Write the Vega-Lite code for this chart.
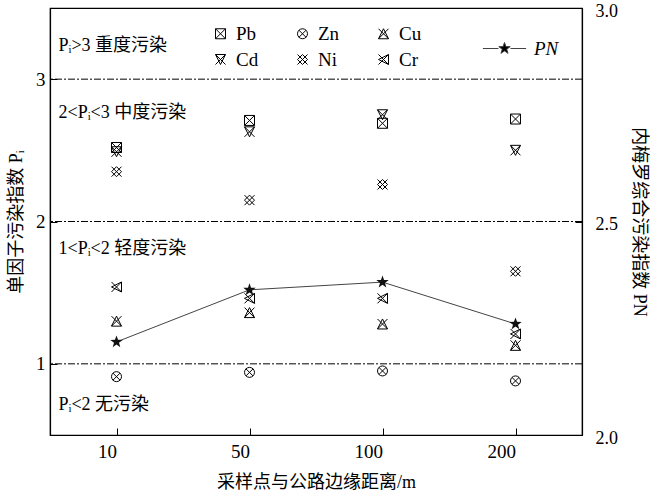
{
  "$schema": "https://vega.github.io/schema/vega-lite/v6.json",
  "width": 532,
  "height": 427,
  "autosize": "none",
  "padding": {"left": 50, "top": 8, "right": 68, "bottom": 56},
  "background": "white",
  "config": {
    "view": {"stroke": "black", "strokeWidth": 1.2},
    "font": "Liberation Serif",
    "axis": {
      "domainColor": "black", "tickColor": "black", "labelColor": "black", "titleColor": "black",
      "labelFont": "Liberation Serif", "titleFont": "Liberation Serif, Noto Sans CJK SC",
      "labelFontSize": 19, "titleFontSize": 18, "titleFontWeight": "normal",
      "grid": false, "tickSize": -7, "domainWidth": 1.2
    },
    "legend": {
      "labelFont": "Liberation Serif", "labelFontSize": 19, "labelColor": "black", "padding": 0
    }
  },
  "datasets": {
    "metals": [
      {"d": "10", "metal": "Pb", "Pi": 2.52},
      {"d": "10", "metal": "Zn", "Pi": 0.91},
      {"d": "10", "metal": "Cu", "Pi": 1.30},
      {"d": "10", "metal": "Cd", "Pi": 2.49},
      {"d": "10", "metal": "Ni", "Pi": 2.35},
      {"d": "10", "metal": "Cr", "Pi": 1.54},
      {"d": "50", "metal": "Pb", "Pi": 2.71},
      {"d": "50", "metal": "Zn", "Pi": 0.94},
      {"d": "50", "metal": "Cu", "Pi": 1.36},
      {"d": "50", "metal": "Cd", "Pi": 2.63},
      {"d": "50", "metal": "Ni", "Pi": 2.15},
      {"d": "50", "metal": "Cr", "Pi": 1.46},
      {"d": "100", "metal": "Pb", "Pi": 2.69},
      {"d": "100", "metal": "Zn", "Pi": 0.95},
      {"d": "100", "metal": "Cu", "Pi": 1.28},
      {"d": "100", "metal": "Cd", "Pi": 2.75},
      {"d": "100", "metal": "Ni", "Pi": 2.26},
      {"d": "100", "metal": "Cr", "Pi": 1.46},
      {"d": "200", "metal": "Pb", "Pi": 2.72},
      {"d": "200", "metal": "Zn", "Pi": 0.88},
      {"d": "200", "metal": "Cu", "Pi": 1.13},
      {"d": "200", "metal": "Cd", "Pi": 2.50},
      {"d": "200", "metal": "Ni", "Pi": 1.65},
      {"d": "200", "metal": "Cr", "Pi": 1.21}
    ],
    "pn": [
      {"d": "10", "PN": 2.218, "series": "PN"},
      {"d": "50", "PN": 2.34, "series": "PN"},
      {"d": "100", "PN": 2.358, "series": "PN"},
      {"d": "200", "PN": 2.26, "series": "PN"}
    ],
    "levels": [{"Pi": 1}, {"Pi": 2}, {"Pi": 3}],
    "notes": [
      {"label": "Pᵢ>3 重度污染", "Pi": 3.23},
      {"label": "2<Pᵢ<3 中度污染", "Pi": 2.76},
      {"label": "1<Pᵢ<2 轻度污染", "Pi": 1.81},
      {"label": "Pᵢ<2 无污染", "Pi": 0.71}
    ]
  },
  "layer": [
    {
      "layer": [
        {
          "data": {"name": "levels"},
          "mark": {"type": "rule", "color": "black", "strokeWidth": 1, "strokeDash": [7, 2, 2, 2]},
          "encoding": {
            "y": {"field": "Pi", "type": "quantitative", "scale": {"domain": [0.5, 3.5], "nice": false, "zero": false}, "axis": {"orient": "left", "values": [1, 2, 3], "title": "单因子污染指数 Pᵢ", "labelPadding": 12, "titlePadding": 10}}
          }
        },
        {
          "data": {"name": "notes"},
          "mark": {"type": "text", "align": "left", "baseline": "middle", "fontSize": 18, "font": "Liberation Serif, Noto Sans CJK SC", "color": "black", "dx": -58},
          "encoding": {
            "x": {"datum": "10", "type": "ordinal", "scale": {"type": "point", "padding": 0.5, "domain": ["10", "50", "100", "200"]}},
            "y": {"field": "Pi", "type": "quantitative", "scale": {"domain": [0.5, 3.5], "nice": false, "zero": false}, "axis": {"orient": "left", "values": [1, 2, 3], "title": "单因子污染指数 Pᵢ", "labelPadding": 12, "titlePadding": 10}},
            "text": {"field": "label"}
          }
        },
        {
          "data": {"name": "metals"},
          "mark": {"type": "point", "filled": false, "color": "black", "strokeWidth": 1, "size": 100, "opacity": 1},
          "encoding": {
            "x": {"field": "d", "type": "ordinal", "scale": {"type": "point", "padding": 0.5, "domain": ["10", "50", "100", "200"]}, "axis": {"labelAngle": 0, "title": "采样点与公路边缘距离/m", "labelPadding": 23, "titlePadding": 12}},
            "y": {"field": "Pi", "type": "quantitative", "scale": {"domain": [0.5, 3.5], "nice": false, "zero": false}, "axis": {"orient": "left", "values": [1, 2, 3], "title": "单因子污染指数 Pᵢ", "labelPadding": 12, "titlePadding": 10}},
            "shape": {
              "field": "metal", "type": "nominal",
              "scale": {
                "domain": ["Pb", "Zn", "Cu", "Cd", "Ni", "Cr"],
                "range": [
                  "M-1,-1H1V1H-1ZM-1,-1L1,1M1,-1L-1,1",
                  "M1,0A1,1,0,1,1,-1,0A1,1,0,1,1,1,0ZM-0.707,-0.707L0.707,0.707M0.707,-0.707L-0.707,0.707",
                  "M0,-1L1,1H-1ZM-1,-1L1,1M1,-1L-1,1",
                  "M-1,-1H1L0,1ZM-1,-1L1,1M1,-1L-1,1",
                  "M0,-1L1,0L0,1L-1,0ZM-1,-1L1,1M1,-1L-1,1",
                  "M1,-1L-1,0L1,1ZM-1,-1L1,1M1,-1L-1,1"
                ]
              },
              "legend": {"title": null, "orient": "none", "legendX": 161, "legendY": 16, "columns": 3, "direction": "horizontal", "columnPadding": 34, "rowPadding": 6, "symbolSize": 100, "symbolStrokeColor": "black", "symbolStrokeWidth": 1, "labelOffset": 6}
            }
          }
        }
      ]
    },
    {
      "data": {"name": "pn"},
      "layer": [
        {
          "mark": {"type": "line", "strokeWidth": 1},
          "encoding": {
            "x": {"field": "d", "type": "ordinal", "scale": {"type": "point", "padding": 0.5, "domain": ["10", "50", "100", "200"]}},
            "y": {"field": "PN", "type": "quantitative", "scale": {"domain": [2, 3], "nice": false, "zero": false}, "axis": {"orient": "right", "values": [2, 2.5, 3], "format": ".1f", "title": "内梅罗综合污染指数 PN", "labelPadding": 20, "titlePadding": 12, "labelOffset": 3, "labelFontSize": 18}},
            "color": {
              "field": "series", "type": "nominal",
              "scale": {"range": ["#444"]},
              "legend": {"title": null, "orient": "none", "legendX": 445, "legendY": 31, "symbolType": "M-3.6,0H-1M1,0H3.6M0,-1L0.235,-0.324L0.951,-0.309L0.38,0.124L0.588,0.809L0,0.4L-0.588,0.809L-0.38,0.124L-0.951,-0.309L-0.235,-0.324Z", "symbolSize": 144, "symbolFillColor": "black", "symbolStrokeColor": "#222", "symbolStrokeWidth": 1, "labelOffset": 20, "labelFontStyle": "italic", "labelExpr": "'PN'"}
            }
          }
        },
        {
          "mark": {"type": "point", "filled": true, "color": "#111", "opacity": 1, "size": 170, "shape": "M0,-1L0.235,-0.324L0.951,-0.309L0.38,0.124L0.588,0.809L0,0.4L-0.588,0.809L-0.38,0.124L-0.951,-0.309L-0.235,-0.324Z"},
          "encoding": {
            "x": {"field": "d", "type": "ordinal", "scale": {"type": "point", "padding": 0.5, "domain": ["10", "50", "100", "200"]}},
            "y": {"field": "PN", "type": "quantitative", "scale": {"domain": [2, 3], "nice": false, "zero": false}}
          }
        }
      ]
    }
  ],
  "resolve": {"scale": {"y": "independent"}}
}
